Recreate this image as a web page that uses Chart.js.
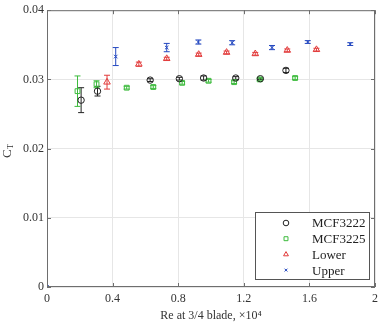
<!DOCTYPE html>
<html>
<head>
<meta charset="utf-8">
<script src="https://cdn.jsdelivr.net/npm/chart.js@4/dist/chart.umd.min.js"></script>
<style>
  html, body { margin: 0; padding: 0; background: #fff; }
  #wrap { width: 383px; height: 323px; position: relative; }
</style>
</head>
<body>
<div id="wrap"><canvas id="ctChart"></canvas></div>
<script>
// chart values
const seriesNames = ['MCF3222', 'MCF3225', 'Lower', 'Upper'];

const mcf3222X = [0.208, 0.308, 0.629, 0.807, 0.955, 1.151, 1.301, 1.457];
const mcf3222Y = [0.0270, 0.0283, 0.0299, 0.0301, 0.0302, 0.0302, 0.0301, 0.0313];
const mcf3222Err = [0.0018, 0.0007, 0.0002, 0.0002, 0.0003, 0.0002, 0.0001, 0.0003];

const mcf3225X = [0.186, 0.302, 0.486, 0.648, 0.824, 0.985, 1.141, 1.297, 1.513];
const mcf3225Y = [0.0283, 0.0293, 0.0288, 0.0289, 0.0295, 0.0298, 0.0296, 0.0300, 0.0302];
const mcf3225Err = [0.0022, 0.0005, 0.0002, 0.0002, 0.0002, 0.0002, 0.0002, 0.0002, 0.0002];

const lowerX = [0.366, 0.560, 0.730, 0.925, 1.095, 1.270, 1.465, 1.643];
const lowerY = [0.0296, 0.0322, 0.0330, 0.0336, 0.0339, 0.0337, 0.0342, 0.0343];
const lowerErr = [0.0010, 0.0003, 0.0002, 0.0002, 0.0002, 0.0002, 0.0002, 0.0002];

const upperX = [0, 0.419, 0.730, 0.923, 1.129, 1.372, 1.590, 1.849];
const upperY = [0, 0.0333, 0.0346, 0.0354, 0.0353, 0.0346, 0.0354, 0.0351];
const upperErr = [0, 0.0013, 0.0006, 0.0003, 0.0003, 0.0003, 0.0002, 0.0002];

const xTickLabels = ['0', '0.4', '0.8', '1.2', '1.6', '2'];
const yTickLabels = ['0', '0.01', '0.02', '0.03', '0.04'];

const serif = "'Liberation Serif', 'Times New Roman', serif";

function points(xs, ys, errs) {
  return xs.map((x, i) => ({ x: x, y: ys[i], err: errs[i] }));
}

function makeSet(label, xs, ys, errs, color, style, radius) {
  return {
    label: label,
    data: points(xs, ys, errs),
    pointStyle: style,
    pointRadius: radius,
    pointBorderWidth: 1,
    borderColor: color,
    backgroundColor: 'rgba(0,0,0,0)',
    showLine: false,
  };
}

// error bars drawn through the scales
const errorBars = {
  id: 'errorBars',
  beforeDatasetsDraw(chart) {
    const ctx = chart.ctx;
    const xs = chart.scales.x;
    const ys = chart.scales.y;
    ctx.save();
    chart.data.datasets.forEach((ds) => {
      ctx.strokeStyle = ds.borderColor;
      ctx.lineWidth = 1;
      ds.data.forEach((p) => {
        if (!p.err) return;
        const px = xs.getPixelForValue(p.x);
        const top = ys.getPixelForValue(p.y + p.err);
        const bot = ys.getPixelForValue(p.y - p.err);
        ctx.beginPath();
        ctx.moveTo(px, top);
        ctx.lineTo(px, bot);
        ctx.moveTo(px - 3, top);
        ctx.lineTo(px + 3, top);
        ctx.moveTo(px - 3, bot);
        ctx.lineTo(px + 3, bot);
        ctx.stroke();
      });
    });
    ctx.restore();
  },
};

// frame, inward ticks, y title and legend box
const frame = {
  id: 'frame',
  afterDraw(chart) {
    const ctx = chart.ctx;
    const a = chart.chartArea;
    const xs = chart.scales.x;
    const ys = chart.scales.y;
    ctx.save();
    ctx.strokeStyle = '#6e6e6e';
    ctx.lineWidth = 1;
    ctx.strokeRect(a.left + 0.5, a.top + 0.5, a.right - a.left - 1, a.bottom - a.top - 1);
    ctx.beginPath();
    xs.ticks.forEach((t) => {
      const px = Math.round(xs.getPixelForValue(t.value)) + 0.5;
      ctx.moveTo(px, a.bottom);
      ctx.lineTo(px, a.bottom - 4);
      ctx.moveTo(px, a.top);
      ctx.lineTo(px, a.top + 4);
    });
    ys.ticks.forEach((t) => {
      const py = Math.round(ys.getPixelForValue(t.value)) + 0.5;
      ctx.moveTo(a.left, py);
      ctx.lineTo(a.left + 4, py);
      ctx.moveTo(a.right, py);
      ctx.lineTo(a.right - 4, py);
    });
    ctx.stroke();

    // C_T
    ctx.fillStyle = '#333';
    ctx.translate(8, 152);
    ctx.rotate(-Math.PI / 2);
    ctx.textBaseline = 'middle';
    ctx.textAlign = 'left';
    ctx.font = '13px ' + serif;
    ctx.fillText('C', -6, 0);
    ctx.font = '8px ' + serif;
    ctx.fillText('T', 3, 3);
    ctx.setTransform(1, 0, 0, 1, 0, 0);

    // legend box
    const bx = 255, by = 212, bw = 114, bh = 67;
    ctx.fillStyle = '#fff';
    ctx.fillRect(bx, by, bw, bh);
    ctx.strokeStyle = '#555';
    ctx.strokeRect(bx + 0.5, by + 0.5, bw, bh);
    chart.data.datasets.forEach((ds, i) => {
      const cy = by + 11 + i * 15.7;
      ctx.strokeStyle = ds.borderColor;
      ctx.fillStyle = 'rgba(0,0,0,0)';
      ctx.lineWidth = 1;
      Chart.helpers.drawPoint(ctx, {
        pointStyle: ds.pointStyle,
        radius: ds.pointStyle === 'crossRot' ? 2 : 2.8,
        borderWidth: 1,
      }, bx + 31, cy);
      ctx.fillStyle = '#222';
      ctx.font = '13px ' + serif;
      ctx.textAlign = 'left';
      ctx.textBaseline = 'middle';
      ctx.fillText(ds.label, bx + 57, cy + 1);
    });
    ctx.restore();
  },
};

const ctx = document.getElementById('ctChart').getContext('2d');
const ctChart = new Chart(ctx, {
  type: 'scatter',
  data: {
    datasets: [
      makeSet(seriesNames[0], mcf3222X, mcf3222Y, mcf3222Err, '#222222', 'circle', 3.2),
      makeSet(seriesNames[1], mcf3225X, mcf3225Y, mcf3225Err, '#3dbb3d', 'rect', 3.4),
      makeSet(seriesNames[2], lowerX, lowerY, lowerErr, '#e23b3b', 'triangle', 3.8),
      makeSet(seriesNames[3], upperX, upperY, upperErr, '#2448c0', 'crossRot', 2.5),
    ],
  },
  options: {
    responsive: true,
    maintainAspectRatio: false,
    animation: false,
    layout: { padding: { left: 0, right: 6, top: 10, bottom: 0 } },
    plugins: {
      legend: { display: false },
      tooltip: { enabled: false },
    },
    scales: {
      x: {
        type: 'linear',
        min: 0,
        max: 2,
        afterBuildTicks(scale) {
          scale.ticks = xTickLabels.map((v) => ({ value: parseFloat(v) }));
        },
        afterFit(scale) { scale.height = 36; },
        ticks: {
          callback: (v, i) => xTickLabels[i],
          color: '#333',
          font: { family: serif, size: 12 },
          padding: 5,
          maxRotation: 0,
        },
        grid: { color: '#e6e6e6', drawTicks: false },
        border: { display: false },
        title: {
          display: true,
          text: 'Re at 3/4 blade, ×10⁴',
          color: '#333',
          font: { family: serif, size: 12 },
          padding: { top: 7, bottom: 0 },
        },
      },
      y: {
        type: 'linear',
        min: 0,
        max: 0.04,
        afterBuildTicks(scale) {
          scale.ticks = yTickLabels.map((v) => ({ value: parseFloat(v) }));
        },
        afterFit(scale) { scale.width = 47; },
        ticks: {
          callback: (v, i) => yTickLabels[i],
          color: '#333',
          font: { family: serif, size: 12 },
          padding: 3,
        },
        grid: { color: '#e6e6e6', drawTicks: false },
        border: { display: false },
      },
    },
  },
  plugins: [errorBars, frame],
});
</script>
</body>
</html>
